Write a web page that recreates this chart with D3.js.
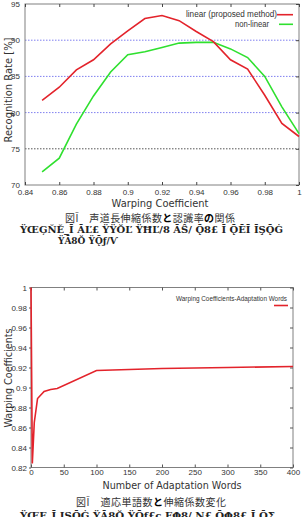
<!DOCTYPE html>
<html><head><meta charset="utf-8">
<script src="https://cdn.jsdelivr.net/npm/d3@7"></script>
<style>
body{margin:0;background:#fff;}
svg{display:block;}
text{font-family:"Liberation Sans",Arial,sans-serif;}
</style></head>
<body><svg id="c" width="303" height="517"></svg>
<script>
// ---- Chart 1 data ----
const warpX = [0.85,0.86,0.87,0.88,0.89,0.90,0.91,0.92,0.93,0.94,0.95,0.96,0.97,0.98,0.99,1.00];
const linearRate = [81.7,83.5,85.9,87.3,89.5,91.3,93.0,93.4,92.7,91.2,89.8,87.3,86.0,82.4,78.5,76.7];
const nonLinearRate = [71.8,73.7,78.4,82.3,85.6,88.0,88.4,89.0,89.6,89.7,89.7,88.8,87.6,85.0,80.8,77.1];
const xTicks1 = [0.84,0.86,0.88,0.9,0.92,0.94,0.96,0.98,1];
const xTickLabels1 = ["0.84","0.86","0.88","0.9","0.92","0.94","0.96","0.98","1"];
const yTicks1 = [70,75,80,85,90,95];
const gridBlue = [80,85,90];
const gridGray = [75];
// ---- Chart 2 data ----
const words = [0,2,5,10,20,30,40,100,200,300,400];
const warpCoef = [1.0,0.824,0.865,0.889,0.896,0.898,0.899,0.917,0.919,0.920,0.921];
const xTicks2 = [0,50,100,150,200,250,300,350,400];
const yTicks2 = [0.82,0.84,0.86,0.88,0.9,0.92,0.94,0.96,0.98,1];
const yTickLabels2 = ["0.82","0.84","0.86","0.88","0.9","0.92","0.94","0.96","0.98","1"];

const svg = d3.select("#c");
const RED = "#e3232b", GREEN = "#2fe02f", AX = "#808080", TXT = "#333";
const TF = "'Liberation Sans',Arial,sans-serif";
const HF = "'DejaVu Sans',sans-serif";

// ===== Chart 1 =====
const x1 = d3.scaleLinear().domain([0.84,1]).range([25,299]);
const y1 = d3.scaleLinear().domain([70,95]).range([185,4]);
const g1 = svg.append("g");
g1.selectAll(".gb").data(gridBlue).join("line")
  .attr("x1",x1(0.84)).attr("x2",x1(1)).attr("y1",d=>y1(d)).attr("y2",d=>y1(d))
  .attr("stroke","#7f7ff0").attr("stroke-width",1).attr("stroke-dasharray","1.5,1.5");
g1.selectAll(".gg").data(gridGray).join("line")
  .attr("x1",x1(0.84)).attr("x2",x1(1)).attr("y1",d=>y1(d)).attr("y2",d=>y1(d))
  .attr("stroke","#555").attr("stroke-width",1).attr("stroke-dasharray","1.5,1.5");
g1.append("rect").attr("x",x1(0.84)).attr("y",y1(95)).attr("width",x1(1)-x1(0.84)).attr("height",y1(70)-y1(95))
  .attr("fill","none").attr("stroke",AX).attr("stroke-width",1);
const ax1b = g1.append("g").attr("transform",`translate(0,${y1(70)})`)
  .call(d3.axisBottom(x1).tickValues(xTicks1).tickFormat((d,i)=>xTickLabels1[i]).tickSize(-3).tickPadding(4));
const ax1t = g1.append("g").attr("transform",`translate(0,${y1(95)})`)
  .call(d3.axisTop(x1).tickValues(xTicks1).tickFormat("").tickSize(-3));
const ax1l = g1.append("g").attr("transform",`translate(${x1(0.84)},0)`)
  .call(d3.axisLeft(y1).tickValues(yTicks1).tickSize(0).tickPadding(5));
const ax1r = g1.append("g").attr("transform",`translate(${x1(1)},0)`)
  .call(d3.axisRight(y1).tickValues(yTicks1).tickFormat("").tickSize(-3));
[ax1b,ax1t,ax1l,ax1r].forEach(a=>{a.select(".domain").remove();
  a.selectAll("line").attr("stroke","#444");
  a.selectAll("text").attr("fill",TXT).style("font-size","8px").style("font-family",TF);});
const line1 = d3.line().x((d,i)=>x1(warpX[i])).y(d=>y1(d));
g1.append("path").datum(nonLinearRate).attr("d",line1).attr("fill","none").attr("stroke",GREEN).attr("stroke-width",1.6);
g1.append("path").datum(linearRate).attr("d",line1).attr("fill","none").attr("stroke",RED).attr("stroke-width",1.6);
// legend
g1.append("text").attr("x",277).attr("y",17).attr("text-anchor","end").attr("fill",TXT)
  .attr("textLength",91).attr("lengthAdjust","spacingAndGlyphs").style("font-size","8.5px").text("linear (proposed method)");
g1.append("line").attr("x1",277).attr("x2",293).attr("y1",14.7).attr("y2",14.7).attr("stroke",RED).attr("stroke-width",1.6);
g1.append("text").attr("x",269).attr("y",27).attr("text-anchor","end").attr("fill",TXT)
  .attr("textLength",34).attr("lengthAdjust","spacingAndGlyphs").style("font-size","8.5px").text("non-linear");
g1.append("line").attr("x1",279).attr("x2",293).attr("y1",24.3).attr("y2",24.3).attr("stroke",GREEN).attr("stroke-width",1.6);
// axis titles
g1.append("text").attr("x",160).attr("y",207).attr("text-anchor","middle").attr("fill",TXT)
  .attr("textLength",97).attr("lengthAdjust","spacingAndGlyphs")
  .style("font-family",HF).style("font-size","10.5px").text("Warping Coefficient");
g1.append("text").attr("transform","translate(12,90) rotate(-90)").attr("text-anchor","middle").attr("fill",TXT)
  .attr("textLength",105).attr("lengthAdjust","spacingAndGlyphs")
  .style("font-family",HF).style("font-size","10.5px").text("Recognition Rate [%]");

// captions chart 1
const cap1 = svg.append("text").attr("x",65).attr("y",222).attr("fill","#333")
  .attr("textLength",170).attr("lengthAdjust","spacing")
  .style("font-family","'Noto Sans CJK JP',sans-serif").style("font-size","10px");
cap1.append("tspan").text("図Ī　声道長伸縮係数");
cap1.append("tspan").attr("font-weight","bold").attr("fill","#000").text("と");
cap1.append("tspan").text("認識率");
cap1.append("tspan").attr("font-weight","bold").attr("fill","#000").text("の");
cap1.append("tspan").text("関係");
svg.append("text").attr("x",20).attr("y",233).attr("textLength",263).attr("lengthAdjust","spacingAndGlyphs")
  .attr("fill","#222").style("font-family","'DejaVu Serif',serif").style("font-size","9px").style("font-weight","bold")
  .text("ŸŒĢŇĚ_Ī ĀĽ£  ŸŸŎĽ ŸĦĽ/8 ĀŜ/  Ǭ8£ Ī ǬĒĪ  ĪŞǬĠ");
svg.append("text").attr("x",58).attr("y",243.5).attr("textLength",60).attr("lengthAdjust","spacingAndGlyphs")
  .attr("fill","#222").style("font-family","'DejaVu Serif',serif").style("font-size","9px").style("font-weight","bold")
  .text("ŸĀ8Ŏ ŸǬƒ/Ѵ");

// ===== Chart 2 =====
const x2 = d3.scaleLinear().domain([0,400]).range([31,293]);
const y2 = d3.scaleLinear().domain([0.82,1]).range([467.5,287.5]);
const g2 = svg.append("g");
g2.append("rect").attr("x",x2(0)).attr("y",y2(1)).attr("width",x2(400)-x2(0)).attr("height",y2(0.82)-y2(1))
  .attr("fill","none").attr("stroke",AX).attr("stroke-width",1);
const ax2b = g2.append("g").attr("transform",`translate(0,${y2(0.82)})`)
  .call(d3.axisBottom(x2).tickValues(xTicks2).tickSize(-3).tickPadding(2));
const ax2t = g2.append("g").attr("transform",`translate(0,${y2(1)})`)
  .call(d3.axisTop(x2).tickValues(xTicks2).tickFormat("").tickSize(-3));
const ax2l = g2.append("g").attr("transform",`translate(${x2(0)},0)`)
  .call(d3.axisLeft(y2).tickValues(yTicks2).tickFormat((d,i)=>yTickLabels2[i]).tickSize(2).tickPadding(2));
const ax2r = g2.append("g").attr("transform",`translate(${x2(400)},0)`)
  .call(d3.axisRight(y2).tickValues(yTicks2).tickFormat("").tickSize(-3));
[ax2b,ax2t,ax2l,ax2r].forEach(a=>{a.select(".domain").remove();
  a.selectAll("line").attr("stroke","#555");
  a.selectAll("text").attr("fill",TXT).style("font-size","8px").style("font-family",TF);});
const line2 = d3.line().x((d,i)=>x2(words[i])).y(d=>y2(d));
g2.append("path").datum(warpCoef).attr("d",line2).attr("fill","none").attr("stroke",RED).attr("stroke-width",1.6);
g2.append("text").attr("x",287).attr("y",301).attr("text-anchor","end").attr("fill",TXT)
  .attr("textLength",111).attr("lengthAdjust","spacingAndGlyphs")
  .style("font-size","7px").text("Warping Coefficients-Adaptation Words");
g2.append("line").attr("x1",274).attr("x2",288).attr("y1",305.5).attr("y2",305.5).attr("stroke",RED).attr("stroke-width",1.6);
g2.append("text").attr("x",172).attr("y",488.5).attr("text-anchor","middle").attr("fill",TXT)
  .attr("textLength",139).attr("lengthAdjust","spacingAndGlyphs")
  .style("font-family",HF).style("font-size","10.5px").text("Number of Adaptation Words");
g2.append("text").attr("transform","translate(12,378) rotate(-90)").attr("text-anchor","middle").attr("fill",TXT)
  .attr("textLength",99).attr("lengthAdjust","spacingAndGlyphs")
  .style("font-family",HF).style("font-size","10.5px").text("Warping Coefficients");

const cap2 = svg.append("text").attr("x",76).attr("y",506).attr("fill","#333")
  .attr("textLength",150).attr("lengthAdjust","spacing")
  .style("font-family","'Noto Sans CJK JP',sans-serif").style("font-size","10px");
cap2.append("tspan").text("図Ī　適応単語数");
cap2.append("tspan").attr("font-weight","bold").attr("fill","#000").text("と");
cap2.append("tspan").text("伸縮係数変化");
svg.append("text").attr("x",20).attr("y",519).attr("textLength",255).attr("lengthAdjust","spacingAndGlyphs")
  .attr("fill","#222").style("font-family","'DejaVu Serif',serif").style("font-size","9px").style("font-weight","bold")
  .text("ŸŒƑ_Ī  ĮŞǬĠ ŸĀ8Ŏ ŸǬƒ£ς ƑΦ8/ Ν£ ǬΦ8£ Ī ǬΣ");
</script></body></html>
